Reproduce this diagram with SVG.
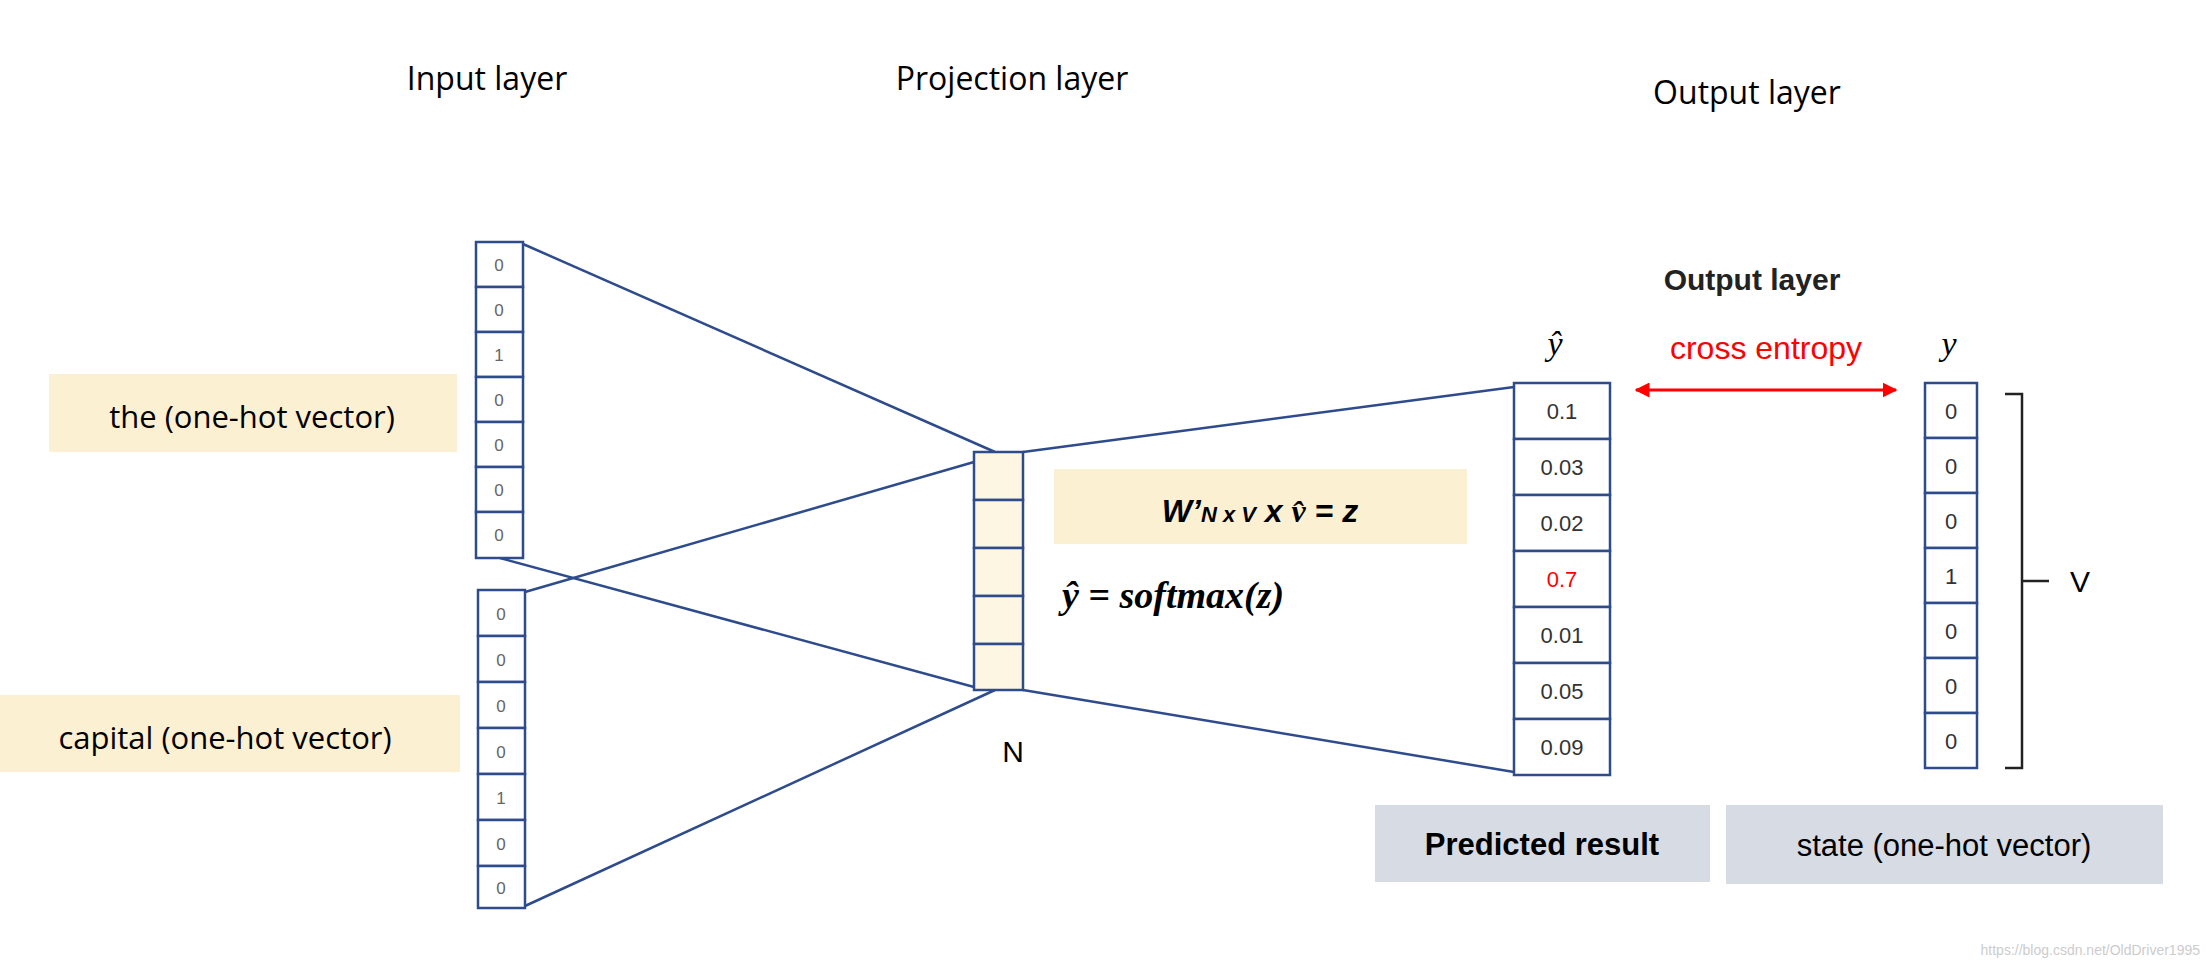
<svg xmlns="http://www.w3.org/2000/svg" width="2206" height="968" viewBox="0 0 2206 968">
<style>
text{font-family:"Liberation Sans",Arial,sans-serif}
.h{font-size:32px;fill:#000;font-family:"Open Sans","Liberation Sans",sans-serif}
.lab{font-size:31px;fill:#000;font-family:"Open Sans","Liberation Sans",sans-serif}
.cell{fill:#fff;stroke:#2e4b8c;stroke-width:2.5}
.pc{fill:#fdf6e3;stroke:#2e4b8c;stroke-width:2.5}
.ct{font-size:17px;fill:#666;text-anchor:middle}
.ot{font-size:22px;fill:#333;text-anchor:middle}
.con{stroke:#2e4b8c;stroke-width:2.5;fill:none}
.m{font-family:"Liberation Serif",serif;font-style:italic}
</style>
<defs>
<marker id="ar" viewBox="0 0 10 10" refX="9" refY="5" markerWidth="5" markerHeight="5" orient="auto-start-reverse"><path d="M0,0L10,5L0,10z" fill="#f00"/></marker>
</defs>
<text class="h" x="487" y="90" text-anchor="middle">Input layer</text>
<text class="h" x="1012" y="90" text-anchor="middle">Projection layer</text>
<text class="h" x="1747" y="104" text-anchor="middle">Output layer</text>

<g id="the-label"><rect x="49" y="374" width="408" height="78" fill="#fcf0d2"/><text class="lab" x="252" y="428" text-anchor="middle">the (one-hot vector)</text></g>
<g id="capital-label"><rect x="0" y="695" width="460" height="77" fill="#fcf0d2"/><text class="lab" x="225" y="749" text-anchor="middle">capital (one-hot vector)</text></g>

<g id="connectors">
<line class="con" x1="523" y1="244" x2="995" y2="452"/>
<line class="con" x1="500" y1="558" x2="974" y2="687"/>
<line class="con" x1="525" y1="592" x2="974" y2="462"/>
<line class="con" x1="525" y1="906" x2="995" y2="690"/>
<line class="con" x1="1023" y1="452" x2="1514" y2="387"/>
<line class="con" x1="1023" y1="690" x2="1514" y2="772"/>
<line x1="1636" y1="390" x2="1896" y2="390" stroke="#f00" stroke-width="3" marker-start="url(#ar)" marker-end="url(#ar)"/>
</g>

<g id="input1">
<rect class="cell" x="476" y="242" width="47" height="45"/><text class="ct" x="499" y="271">0</text>
<rect class="cell" x="476" y="287" width="47" height="45"/><text class="ct" x="499" y="316">0</text>
<rect class="cell" x="476" y="332" width="47" height="45"/><text class="ct" x="499" y="361">1</text>
<rect class="cell" x="476" y="377" width="47" height="45"/><text class="ct" x="499" y="406">0</text>
<rect class="cell" x="476" y="422" width="47" height="45"/><text class="ct" x="499" y="451">0</text>
<rect class="cell" x="476" y="467" width="47" height="45"/><text class="ct" x="499" y="496">0</text>
<rect class="cell" x="476" y="512" width="47" height="46"/><text class="ct" x="499" y="541">0</text>
</g>
<g id="input2">
<rect class="cell" x="478" y="590" width="47" height="46"/><text class="ct" x="501" y="620">0</text>
<rect class="cell" x="478" y="636" width="47" height="46"/><text class="ct" x="501" y="666">0</text>
<rect class="cell" x="478" y="682" width="47" height="46"/><text class="ct" x="501" y="712">0</text>
<rect class="cell" x="478" y="728" width="47" height="46"/><text class="ct" x="501" y="758">0</text>
<rect class="cell" x="478" y="774" width="47" height="46"/><text class="ct" x="501" y="804">1</text>
<rect class="cell" x="478" y="820" width="47" height="46"/><text class="ct" x="501" y="850">0</text>
<rect class="cell" x="478" y="866" width="47" height="42"/><text class="ct" x="501" y="894">0</text>
</g>
<g id="projection">
<rect class="pc" x="974" y="452" width="49" height="48"/>
<rect class="pc" x="974" y="500" width="49" height="48"/>
<rect class="pc" x="974" y="548" width="49" height="48"/>
<rect class="pc" x="974" y="596" width="49" height="48"/>
<rect class="pc" x="974" y="644" width="49" height="46"/>
<text x="1013" y="762" font-size="30" text-anchor="middle" font-family="Open Sans,Liberation Sans,sans-serif">N</text>
</g>
<g id="formula">
<rect x="1054" y="469" width="413" height="75" fill="#fcf0d2"/>
<text x="1260" y="522" text-anchor="middle" font-size="32" font-weight="bold" font-style="italic">W’<tspan font-size="22">N x V</tspan> x <tspan class="m">v̂</tspan> = z</text>
<text class="m" x="1062" y="608" font-size="38" font-weight="bold">ŷ = softmax(z)</text>
</g>
<g id="output-labels">
<text x="1752" y="290" text-anchor="middle" font-size="30" font-weight="bold" fill="#222" font-family="Open Sans,Liberation Sans,sans-serif">Output layer</text>
<text class="m" x="1555" y="355" font-size="34" text-anchor="middle">ŷ</text>
<text x="1766" y="359" font-size="32" fill="#f00" text-anchor="middle" font-family="Open Sans,Liberation Sans,sans-serif">cross entropy</text>
<text class="m" x="1949" y="355" font-size="34" text-anchor="middle">y</text>
</g>
<g id="yhat">
<rect class="cell" x="1514" y="383" width="96" height="56"/><text class="ot" x="1562" y="419">0.1</text>
<rect class="cell" x="1514" y="439" width="96" height="56"/><text class="ot" x="1562" y="475">0.03</text>
<rect class="cell" x="1514" y="495" width="96" height="56"/><text class="ot" x="1562" y="531">0.02</text>
<rect class="cell" x="1514" y="551" width="96" height="56"/><text class="ot" x="1562" y="587" fill="#f00" style="fill:#f00">0.7</text>
<rect class="cell" x="1514" y="607" width="96" height="56"/><text class="ot" x="1562" y="643">0.01</text>
<rect class="cell" x="1514" y="663" width="96" height="56"/><text class="ot" x="1562" y="699">0.05</text>
<rect class="cell" x="1514" y="719" width="96" height="56"/><text class="ot" x="1562" y="755">0.09</text>
</g>
<g id="y">
<rect class="cell" x="1925" y="383" width="52" height="55"/><text class="ot" x="1951" y="419">0</text>
<rect class="cell" x="1925" y="438" width="52" height="55"/><text class="ot" x="1951" y="474">0</text>
<rect class="cell" x="1925" y="493" width="52" height="55"/><text class="ot" x="1951" y="529">0</text>
<rect class="cell" x="1925" y="548" width="52" height="55"/><text class="ot" x="1951" y="584">1</text>
<rect class="cell" x="1925" y="603" width="52" height="55"/><text class="ot" x="1951" y="639">0</text>
<rect class="cell" x="1925" y="658" width="52" height="55"/><text class="ot" x="1951" y="694">0</text>
<rect class="cell" x="1925" y="713" width="52" height="55"/><text class="ot" x="1951" y="749">0</text>
</g>
<g id="bracket">
<path d="M2005,394H2022V768H2005M2022,581H2049" fill="none" stroke="#222" stroke-width="2.5"/>
<text x="2070" y="592" font-size="30" font-family="Open Sans,Liberation Sans,sans-serif">V</text>
</g>
<g id="predicted"><rect x="1375" y="805" width="335" height="77" fill="#d6dbe4"/><text x="1542" y="855" text-anchor="middle" font-size="31" font-weight="bold" font-family="Open Sans,Liberation Sans,sans-serif">Predicted result</text></g>
<g id="state"><rect x="1726" y="805" width="437" height="79" fill="#d6dbe4"/><text x="1944" y="856" text-anchor="middle" font-size="31" font-family="Open Sans,Liberation Sans,sans-serif">state (one-hot vector)</text></g>
<text x="2200" y="955" font-size="14" fill="#ccc" text-anchor="end">https://blog.csdn.net/OldDriver1995</text>
</svg>
